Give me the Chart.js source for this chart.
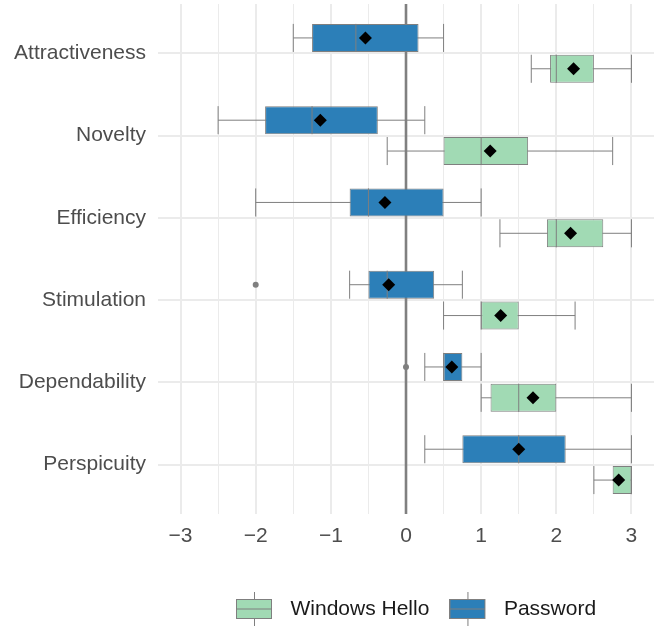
<!DOCTYPE html>
<html>
<head>
<meta charset="utf-8">
<script src="https://cdn.jsdelivr.net/npm/chart.js@4/dist/chart.umd.min.js"></script>
<style>
  html, body { margin: 0; padding: 0; background: #fff; }
</style>
</head>
<body>
<canvas id="ueqChart" width="654" height="626"></canvas>
<script>
// UEQ dimensions, top to bottom
const dimensions = ['Attractiveness', 'Novelty', 'Efficiency', 'Stimulation', 'Dependability', 'Perspicuity'];
const xTickValues = [-3, -2.5, -2, -1.5, -1, -0.5, 0, 0.5, 1, 1.5, 2, 2.5, 3];

// Password
const pwLow  = [-1.5, -2.5, -2.0, -0.75, 0.25, 0.25];
const pwQ1   = [-1.25, -1.875, -0.75, -0.5, 0.5, 0.75];
const pwMed  = [-0.667, -1.25, -0.5, -0.25, 0.5, 1.5];
const pwQ3   = [0.167, -0.375, 0.5, 0.375, 0.75, 2.125];
const pwHigh = [0.5, 0.25, 1.0, 0.75, 1.0, 3.0];
const pwMean = [-0.54, -1.14, -0.28, -0.23, 0.61, 1.5];
const pwOut  = [[], [], [], [-2], [0], []];

// Windows Hello
const whLow  = [1.667, -0.25, 1.25, 0.5, 1.0, 2.5];
const whQ1   = [1.917, 0.5, 1.875, 1.0, 1.125, 2.75];
const whMed  = [2.0, 1.0, 2.0, 1.0, 1.5, 3.0];
const whQ3   = [2.5, 1.625, 2.625, 1.5, 2.0, 3.0];
const whHigh = [3.0, 2.75, 3.0, 2.25, 3.0, 3.0];
const whMean = [2.23, 1.12, 2.19, 1.26, 1.69, 2.83];
const whOut  = [[], [], [], [], [], []];

const FONT = '"Liberation Sans", Arial, Helvetica, sans-serif';
const GREEN = '#a1dab4';
const BLUE = '#2c7fb8';
const EDGE = '#7f7f7f';

// dataset 0 sits on top inside each row, so Password goes first
const groups = [
    { low: pwLow, med: pwMed, high: pwHigh, mean: pwMean, out: pwOut },
    { low: whLow, med: whMed, high: whHigh, mean: whMean, out: whOut }
];

// little boxplot glyph for the legend
function boxKey(fill) {
    const c = document.createElement('canvas');
    c.width = 44;
    c.height = 34;
    const g = c.getContext('2d');
    g.strokeStyle = EDGE;
    g.lineWidth = 1;
    g.beginPath();
    g.moveTo(18.5, 0); g.lineTo(18.5, 7);
    g.moveTo(18.5, 27); g.lineTo(18.5, 34);
    g.stroke();
    g.fillStyle = fill;
    g.fillRect(0.5, 7.5, 35, 19);
    g.strokeRect(0.5, 7.5, 35, 19);
    g.beginPath();
    g.moveTo(0.5, 17); g.lineTo(35.5, 17);
    g.stroke();
    return c;
}

// whiskers, medians, means and outliers around the floating bars
const boxParts = {
    id: 'boxParts',
    afterLayout(chart) {
        const lg = chart.legend;
        lg.left = 216;
        lg.top += 3.5;
        lg.bottom += 3.5;
    },
    beforeDatasetsDraw(chart) {
        const { ctx, chartArea, scales: { x } } = chart;
        ctx.save();
        const x0 = x.getPixelForValue(0);
        ctx.strokeStyle = '#808080';
        ctx.lineWidth = 2.6;
        ctx.beginPath();
        ctx.moveTo(x0, chartArea.top);
        ctx.lineTo(x0, chartArea.bottom);
        ctx.stroke();

        ctx.strokeStyle = EDGE;
        ctx.lineWidth = 1;
        groups.forEach((grp, d) => {
            chart.getDatasetMeta(d).data.forEach((bar, i) => {
                const top = bar.y - bar.height / 2;
                const bot = bar.y + bar.height / 2;
                const lo = x.getPixelForValue(grp.low[i]);
                const hi = x.getPixelForValue(grp.high[i]);
                ctx.beginPath();
                ctx.moveTo(lo, bar.y); ctx.lineTo(hi, bar.y);
                ctx.moveTo(lo, top); ctx.lineTo(lo, bot);
                ctx.moveTo(hi, top); ctx.lineTo(hi, bot);
                ctx.stroke();
            });
        });
        ctx.restore();
    },
    afterDatasetsDraw(chart) {
        const { ctx, scales: { x } } = chart;
        ctx.save();
        groups.forEach((grp, d) => {
            chart.getDatasetMeta(d).data.forEach((bar, i) => {
                const top = bar.y - bar.height / 2;
                const bot = bar.y + bar.height / 2;
                const m = x.getPixelForValue(grp.med[i]);
                ctx.strokeStyle = EDGE;
                ctx.lineWidth = 1;
                ctx.beginPath();
                ctx.moveTo(m, top); ctx.lineTo(m, bot);
                ctx.stroke();

                ctx.fillStyle = EDGE;
                grp.out[i].forEach(v => {
                    ctx.beginPath();
                    ctx.arc(x.getPixelForValue(v), bar.y, 3, 0, Math.PI * 2);
                    ctx.fill();
                });

                const mx = x.getPixelForValue(grp.mean[i]);
                const r = 6.5;
                ctx.fillStyle = '#000';
                ctx.beginPath();
                ctx.moveTo(mx, bar.y - r);
                ctx.lineTo(mx + r, bar.y);
                ctx.lineTo(mx, bar.y + r);
                ctx.lineTo(mx - r, bar.y);
                ctx.closePath();
                ctx.fill();
            });
        });
        ctx.restore();
    }
};

const keyWH = boxKey(GREEN);
const keyPW = boxKey(BLUE);

new Chart(document.getElementById('ueqChart'), {
    type: 'bar',
    data: {
        datasets: [
            {
                label: 'Password',
                data: dimensions.map((_, i) => ({ y: i + 1, x: [pwQ1[i], pwQ3[i]] })),
                backgroundColor: BLUE,
                borderColor: EDGE,
                borderWidth: 1,
                borderSkipped: false,
                categoryPercentage: 0.75,
                barPercentage: 0.91
            },
            {
                label: 'Windows Hello',
                data: dimensions.map((_, i) => ({ y: i + 1, x: [whQ1[i], whQ3[i]] })),
                backgroundColor: GREEN,
                borderColor: EDGE,
                borderWidth: 1,
                borderSkipped: false,
                categoryPercentage: 0.75,
                barPercentage: 0.91
            }
        ]
    },
    options: {
        responsive: false,
        animation: false,
        devicePixelRatio: 1,
        indexAxis: 'y',
        layout: { padding: { top: 4, right: 0, bottom: 0, left: 0 } },
        plugins: {
            tooltip: { enabled: false },
            legend: {
                position: 'bottom',
                align: 'start',
                labels: {
                    usePointStyle: true,
                    pointStyleWidth: 44,
                    padding: 20,
                    color: '#1a1a1a',
                    font: { family: FONT, size: 21 },
                    generateLabels: () => [
                        { text: 'Windows Hello', pointStyle: keyWH, datasetIndex: 1, fontColor: '#1a1a1a', lineWidth: 0, hidden: false },
                        { text: 'Password', pointStyle: keyPW, datasetIndex: 0, fontColor: '#1a1a1a', lineWidth: 0, hidden: false }
                    ]
                }
            }
        },
        scales: {
            x: {
                type: 'linear',
                min: -3.3,
                max: 3.3,
                afterBuildTicks: s => { s.ticks = xTickValues.map(v => ({ value: v })); },
                afterFit: s => {
                    s.height = 61;
                    s.paddingLeft = 0;
                    s.paddingRight = 0;
                },
                border: { display: false },
                grid: {
                    color: '#ebebeb',
                    lineWidth: c => Number.isInteger(c.tick.value) ? 2 : 1,
                    drawTicks: false
                },
                ticks: {
                    autoSkip: false,
                    maxRotation: 0,
                    padding: 10,
                    color: '#4d4d4d',
                    font: { family: FONT, size: 21 },
                    callback: v => Number.isInteger(v) ? String(v).replace('-', '\u2212') : ''
                }
            },
            y: {
                type: 'linear',
                reverse: true,
                offset: false,
                min: 0.4,
                max: 6.6,
                afterBuildTicks: s => { s.ticks = dimensions.map((_, i) => ({ value: i + 1 })); },
                afterFit: s => {
                    s.width = 158;
                    s.paddingTop = 0;
                    s.paddingBottom = 0;
                },
                border: { display: false },
                grid: { color: '#ebebeb', lineWidth: 2, drawTicks: false, offset: false },
                ticks: {
                    padding: 12,
                    color: '#4d4d4d',
                    font: { family: FONT, size: 21 },
                    callback: v => dimensions[v - 1]
                }
            }
        }
    },
    plugins: [boxParts]
});
</script>
</body>
</html>
